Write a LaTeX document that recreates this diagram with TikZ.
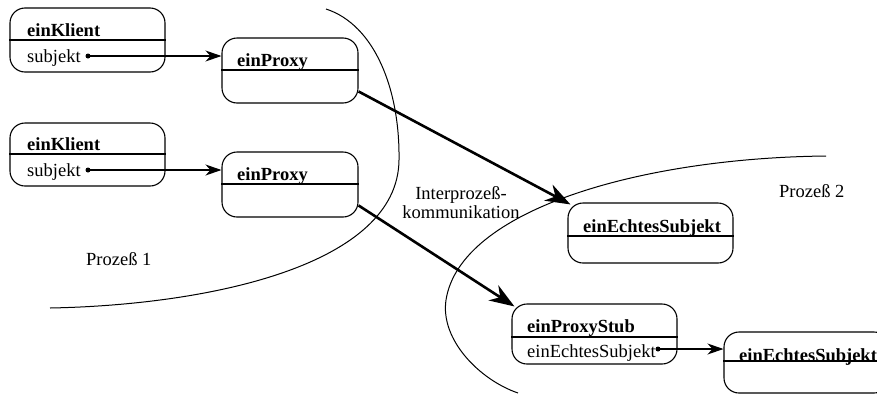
\documentclass[tikz,border=0pt]{standalone}
\usepackage{fontspec}
\setmainfont{Liberation Serif}
\newfontfamily\tms{Liberation Serif}
\usetikzlibrary{arrows.meta,calc}
\begin{document}
\begin{tikzpicture}[x=1pt,y=-1pt,
  obj/.style={draw,line width=1.1pt,rounded corners=15pt,inner sep=0pt},
  nm/.style={anchor=base west,inner sep=0pt,font=\tms\fontsize{18.5}{20}\selectfont\bfseries},
  attr/.style={anchor=base west,inner sep=0pt,font=\tms\fontsize{18.5}{20}\selectfont},
  lbl/.style={inner sep=0pt,font=\tms\fontsize{18.5}{20}\selectfont},
  divider/.style={line width=1.1pt},
  dotnode/.style={circle,fill,inner sep=0pt,minimum size=5pt},
  ref/.style={line width=1.1pt,-{Stealth[length=16pt,width=11pt,inset=5pt]}},
  ipc/.style={line width=2.6pt,-{Stealth[length=25pt,width=18pt,inset=8pt]}},
  boundary/.style={line width=1pt}]
\useasboundingbox (0,0) rectangle (877,394);
% boundaries
\draw[boundary] (326,9) .. controls (375,25) and (400,90) .. (399,160)
  .. controls (398,265) and (210,305) .. (50,308);
\draw[boundary] (826,156) .. controls (640,158) and (460,210) .. (446,300)
  .. controls (440,340) and (480,380) .. (518,393);
% einKlient 1
\node[obj,minimum width=155pt,minimum height=64pt] (k1) at (87.5,40) {};
\draw[divider] (k1.west |- 0,40) -- (k1.east |- 0,40);
\node[nm] (k1n) at (27,36.5) {einKlient};
\node[attr] (k1a) at (27,62) {subjekt};
\node[dotnode] (d1) at (88,56) {};
% einProxy 1
\node[obj,minimum width=136pt,minimum height=65pt] (p1) at (290,70.5) {};
\draw[divider] (p1.west |- 0,70) -- (p1.east |- 0,70);
\node[nm] (p1n) at (237,66.5) {einProxy};
% einKlient 2
\node[obj,minimum width=155pt,minimum height=63pt] (k2) at (87.5,154.5) {};
\draw[divider] (k2.west |- 0,154) -- (k2.east |- 0,154);
\node[nm] (k2n) at (27,150.5) {einKlient};
\node[attr] (k2a) at (27,176) {subjekt};
\node[dotnode] (d2) at (88,170) {};
% einProxy 2
\node[obj,minimum width=136pt,minimum height=65pt] (p2) at (290,184.5) {};
\draw[divider] (p2.west |- 0,184) -- (p2.east |- 0,184);
\node[nm] (p2n) at (237,180.5) {einProxy};
% einEchtesSubjekt 1
\node[obj,minimum width=165pt,minimum height=60pt] (e1) at (650.5,233) {};
\draw[divider] (e1.west |- 0,236) -- (e1.east |- 0,236);
\node[nm] (e1n) at (583,232) {einEchtesSubjekt};
% einProxyStub
\node[obj,minimum width=165pt,minimum height=60pt] (s) at (594.5,334) {};
\draw[divider] (s.west |- 0,337) -- (s.east |- 0,337);
\node[nm] (sn) at (527,332.5) {einProxyStub};
\node[attr] (sa) at (527,357) {einEchtesSubjekt};
\node[dotnode] (d3) at (658,349) {};
% einEchtesSubjekt 2
\node[obj,minimum width=165pt,minimum height=61pt] (e2) at (806.5,362.5) {};
\draw[divider] (e2.west |- 0,361) -- (e2.east |- 0,361);
\node[nm] (e2n) at (739,361) {einEchtesSubjekt};
% references
\draw[ref] (d1.center) -- (d1 -| p1.west);
\draw[ref] (d2.center) -- (d2 -| p2.west);
\draw[ref] (d3.center) -- (d3 -| e2.west);
% interprocess
\draw[ipc] (p1.-17) -- ($(e1.north west)+(3,2)$);
\draw[ipc] (p2.-17) -- ($(s.north west)+(3,3)$);
% labels
\node[lbl,align=center] (ipcl) at (461,203) {Interprozeß-\\[-1pt]kommunikation};
\node[lbl,anchor=base west] (pr1) at (86,265) {Prozeß 1};
\node[lbl,anchor=base west] (pr2) at (779,197) {Prozeß 2};
\end{tikzpicture}
\end{document}
